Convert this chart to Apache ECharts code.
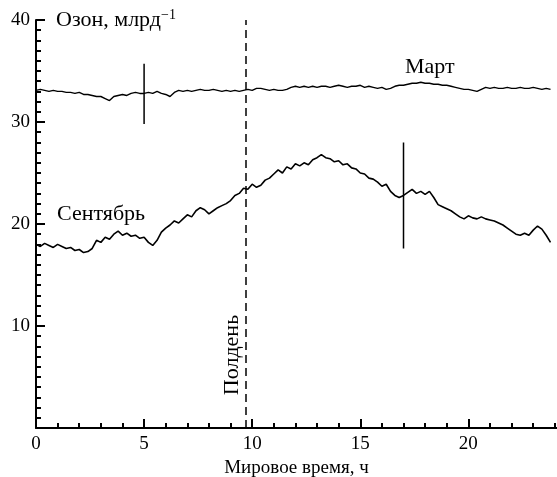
<!DOCTYPE html>
<html><head><meta charset="utf-8">
<script src="https://cdn.jsdelivr.net/npm/echarts@6/dist/echarts.min.js"></script>
<style>html,body{margin:0;padding:0;background:#fff}#c{width:557px;height:477px}</style>
</head><body><div id="c"></div>
<script>
// Sampling step of the recorded traces (hours)
const STEP = 0.2;
// Ozone, March (ppb)
const march = [33.1,33.2,33.1,33.0,33.1,33.0,33.0,32.9,32.9,32.8,
32.9,32.7,32.7,32.6,32.5,32.5,32.3,32.1,32.5,32.6,
32.7,32.6,32.8,32.9,32.8,32.8,32.9,32.8,33.0,32.8,
32.7,32.5,32.9,33.1,33.0,33.1,33.0,33.1,33.2,33.1,
33.1,33.2,33.1,33.0,33.1,33.0,33.1,33.0,33.1,33.2,
33.1,33.3,33.3,33.2,33.1,33.2,33.1,33.1,33.2,33.4,
33.5,33.4,33.5,33.4,33.5,33.4,33.5,33.5,33.4,33.5,
33.6,33.5,33.4,33.5,33.5,33.6,33.4,33.5,33.4,33.3,
33.4,33.2,33.3,33.5,33.6,33.6,33.7,33.8,33.8,33.9,
33.8,33.8,33.7,33.7,33.6,33.6,33.5,33.4,33.3,33.2,
33.2,33.1,33.0,33.2,33.4,33.3,33.4,33.3,33.3,33.4,
33.3,33.3,33.4,33.3,33.3,33.4,33.3,33.2,33.3,33.2];
// Ozone, September (ppb)
const september = [18.0,17.8,18.1,17.9,17.7,18.0,17.8,17.6,17.7,17.4,
17.5,17.2,17.3,17.6,18.4,18.2,18.7,18.5,19.0,19.3,
18.9,19.1,18.8,18.9,18.6,18.7,18.2,17.9,18.4,19.2,
19.6,19.9,20.3,20.1,20.5,20.9,20.7,21.3,21.6,21.4,
21.0,21.3,21.6,21.8,22.0,22.3,22.8,23.0,23.5,23.4,
23.9,23.6,23.8,24.3,24.5,24.9,25.3,25.0,25.6,25.4,
25.9,25.7,26.0,25.8,26.3,26.5,26.8,26.5,26.4,26.1,
26.2,25.8,25.9,25.5,25.4,25.0,24.9,24.5,24.4,24.1,
23.7,23.9,23.2,22.8,22.6,22.8,23.1,23.4,23.0,23.2,
22.9,23.2,22.6,21.9,21.7,21.5,21.3,21.0,20.7,20.5,
20.8,20.6,20.5,20.7,20.5,20.4,20.3,20.1,19.9,19.6,
19.3,19.0,18.9,19.1,18.9,19.4,19.8,19.5,18.9,18.2];
// Error bars: hour, low, high
const errHours = [5, 17];
const errLow = [29.8, 17.6];
const errHigh = [35.7, 28.0];
const noonHour = 9.7;
const xTicks = [0, 5, 10, 15, 20];
const yTicks = [0, 10, 20, 30, 40];

const FONT = 'Liberation Serif';
const toPairs = arr => arr.map((v, i) => [+(i * STEP).toFixed(2), v]);
const series = [
  {type:'line', data: toPairs(march), symbol:'none', lineStyle:{color:'#000', width:1.4}, silent:true,
   markLine:{silent:true, symbol:'none', label:{show:false},
     lineStyle:{color:'#000', type:[8,5], width:1.5},
     data:[[{coord:[noonHour,0]},{coord:[noonHour,40]}]]}},
  {type:'line', data: toPairs(september), symbol:'none', lineStyle:{color:'#000', width:1.6}, silent:true}
];
errHours.forEach((h, i) => {
  series.push({type:'line', data:[[h, errLow[i]],[h, errHigh[i]]], symbol:'none', silent:true,
    lineStyle:{color:'#000', width:1.5}});
});

const chart = echarts.init(document.getElementById('c'));
chart.setOption({
  animation:false,
  grid:{left:36, right:0, top:20, bottom:49, containLabel:false, outerBoundsMode:'none'},
  xAxis:{type:'value', min:0, max:24.1, interval:5,
    axisLine:{lineStyle:{color:'#000', width:2}},
    axisTick:{inside:true, length:9, lineStyle:{color:'#000', width:2},
      customValues: xTicks},
    minorTick:{show:true, splitNumber:5, length:5, lineStyle:{color:'#000', width:2}},
    axisLabel:{color:'#000', fontFamily:FONT, fontSize:19, margin:7, customValues: xTicks,
      formatter: v => String(v)},
    splitLine:{show:false},
    name:'Мировое время, ч', nameLocation:'middle', nameGap:28,
    nameTextStyle:{color:'#000', fontFamily:FONT, fontSize:19}},
  yAxis:{type:'value', min:0, max:40, interval:10,
    axisLine:{show:true, lineStyle:{color:'#000', width:2}},
    axisTick:{show:true, inside:true, length:9, lineStyle:{color:'#000', width:2}},
    minorTick:{show:true, splitNumber:10, length:5, lineStyle:{color:'#000', width:2}},
    axisLabel:{color:'#000', fontFamily:FONT, fontSize:19, margin:6,
      formatter: v => v === 0 ? '' : String(v)},
    splitLine:{show:false}},
  series: series,
  graphic:[
    {type:'text', left:56, top:8, style:{text:'Озон, млрд{s|−1}', fill:'#000', font:'22px "Liberation Serif"',
      rich:{s:{fontSize:14, fontFamily:FONT, verticalAlign:'top', padding:[0,0,10,0]}}}},
    {type:'text', left:405, top:56, style:{text:'Март', fill:'#000', font:'22px "Liberation Serif"'}},
    {type:'text', left:57, top:203, style:{text:'Сентябрь', fill:'#000', font:'22px "Liberation Serif"'}},
    {type:'text', x:232, y:355, rotation:Math.PI/2, style:{text:'Полдень', fill:'#000',
      font:'22px "Liberation Serif"', align:'center', verticalAlign:'middle'}}
  ]
});
</script></body></html>
